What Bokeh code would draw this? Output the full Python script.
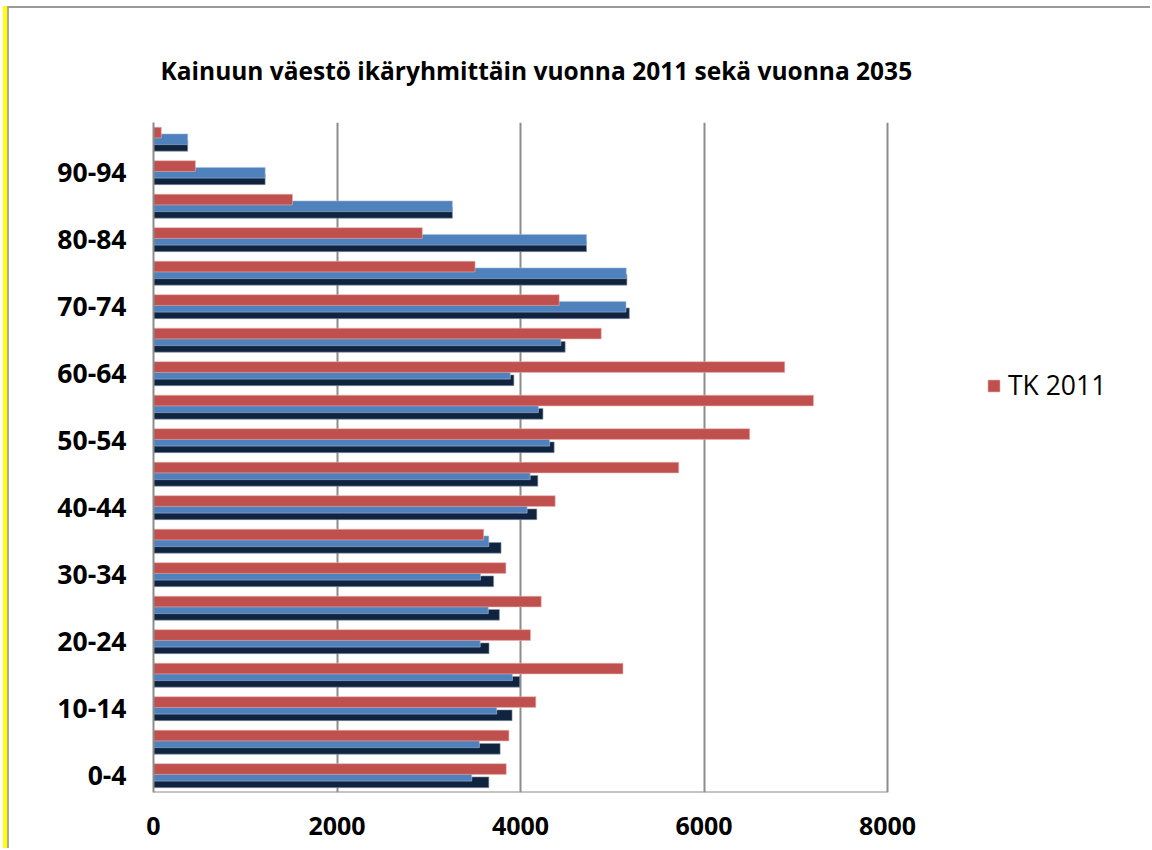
from bokeh.plotting import figure
from bokeh.models import (Range1d, FixedTicker, Legend, LegendItem, ColumnDataSource)
from bokeh.transform import dodge
from bokeh.embed import file_html
from bokeh.resources import INLINE

categories = ["0-4", "5-9", "10-14", "15-19", "20-24", "25-29", "30-34", "35-39",
              "40-44", "45-49", "50-54", "55-59", "60-64", "65-69", "70-74", "75-79",
              "80-84", "85-89", "90-94", "95+"]
tk_2011 = [3845, 3874, 4167, 5117, 4109, 4226, 3841, 3599, 4378, 5725,
           6498, 7193, 6880, 4880, 4422, 3505, 2930, 1515, 457, 85]
ennuste_a = [3469, 3552, 3741, 3912, 3561, 3649, 3565, 3655, 4072, 4106,
             4317, 4195, 3889, 4440, 5150, 5153, 4720, 3258, 1217, 373]
ennuste_b = [3655, 3778, 3908, 3992, 3657, 3770, 3707, 3788, 4178, 4189,
             4367, 4245, 3928, 4487, 5186, 5160, 4720, 3258, 1217, 373]
x_ticks = [0, 2000, 4000, 6000, 8000]
title_text = "Kainuun väestö ikäryhmittäin vuonna 2011 sekä vuonna 2035"

idx = list(range(len(categories)))
src = ColumnDataSource(dict(idx=idx, cat=categories, tk=tk_2011, a=ennuste_a, b=ennuste_b))

# geometry (pixels): the value axis 0..8000 spans 734 px; the frame is
# extended to the right edge so that the legend can sit inside it
W, H = 1143, 842
LEFT, TOP, BOTTOM = 144, 114, 58
AXIS_PX = 734
frame_w = W - LEFT
x_end = x_ticks[-1] * frame_w / AXIS_PX

p = figure(width=W, height=H, output_backend="svg", toolbar_location=None,
           x_range=Range1d(0, x_end), y_range=Range1d(-0.5, len(categories) - 0.5),
           min_border_left=LEFT, min_border_right=0, min_border_top=TOP,
           min_border_bottom=BOTTOM)
p.styles = {"margin-left": "7px", "margin-top": "6px",
            "border-left": "2px solid #a8a8a8", "border-top": "2px solid #9a9a9a",
            "box-shadow": "-4px 0 0 0 #ffff00"}

FONT = "Open Sans"
p.title.text = title_text
p.title.text_font = FONT
p.title.text_font_style = "bold"
p.title.text_font_size = "24.5px"
p.title.text_color = "black"
p.title.align = "left"
p.title.offset = 7
p.title.standoff = 71

p.outline_line_color = None
p.background_fill_color = "white"
p.border_fill_color = "white"

GRID = "#8c8c8c"
p.ygrid.grid_line_color = None
p.xgrid.grid_line_color = GRID
p.xgrid.grid_line_width = 2
p.xgrid.ticker = FixedTicker(ticks=x_ticks)

p.xaxis.ticker = FixedTicker(ticks=x_ticks)
p.xaxis.axis_line_color = None
p.xaxis.major_tick_line_color = None
p.xaxis.minor_tick_line_color = None
p.xaxis.major_label_text_font = FONT
p.xaxis.major_label_text_font_style = "bold"
p.xaxis.major_label_text_font_size = "25px"
p.xaxis.major_label_text_color = "black"
p.xaxis.major_label_standoff = 18
# the value axis line runs only from the first to the last tick
p.segment(x0=[x_ticks[0]], x1=[x_ticks[-1]], y0=[-0.5], y1=[-0.5],
          line_color=GRID, line_width=2)

p.yaxis.ticker = FixedTicker(ticks=idx[::2])
p.yaxis.major_label_overrides = {i: categories[i] for i in idx[::2]}
p.yaxis.axis_line_color = GRID
p.yaxis.axis_line_width = 2
p.yaxis.major_tick_line_color = None
p.yaxis.minor_tick_line_color = None
p.yaxis.major_label_text_font = FONT
p.yaxis.major_label_text_font_style = "bold"
p.yaxis.major_label_text_font_size = "26.5px"
p.yaxis.major_label_text_color = "black"
p.yaxis.major_label_standoff = 21

BH = 0.32
p.hbar(y=dodge("idx", -0.195), left=0, right="b", height=BH, source=src,
       fill_color="#10243f", line_color="#8a96a8", line_width=0.6)
p.hbar(y=dodge("idx", 0.0), left=0, right="a", height=BH, source=src,
       fill_color="#4f81bd", line_color="#a9c1e0", line_width=0.6)
r_tk = p.hbar(y=dodge("idx", 0.2), left=0, right="tk", height=BH, source=src,
              fill_color="#c0504d", line_color="#e6b3b1", line_width=0.6)

legend = Legend(items=[LegendItem(label="TK 2011", renderers=[r_tk])],
                location=(833, 389), glyph_width=15, glyph_height=15,
                label_standoff=7, padding=0, margin=0, border_line_color=None,
                background_fill_alpha=0, label_text_font=FONT,
                label_text_font_size="26.5px", label_text_color="black")
p.add_layout(legend, "center")

open("out.html", "w").write(file_html(p, INLINE))
